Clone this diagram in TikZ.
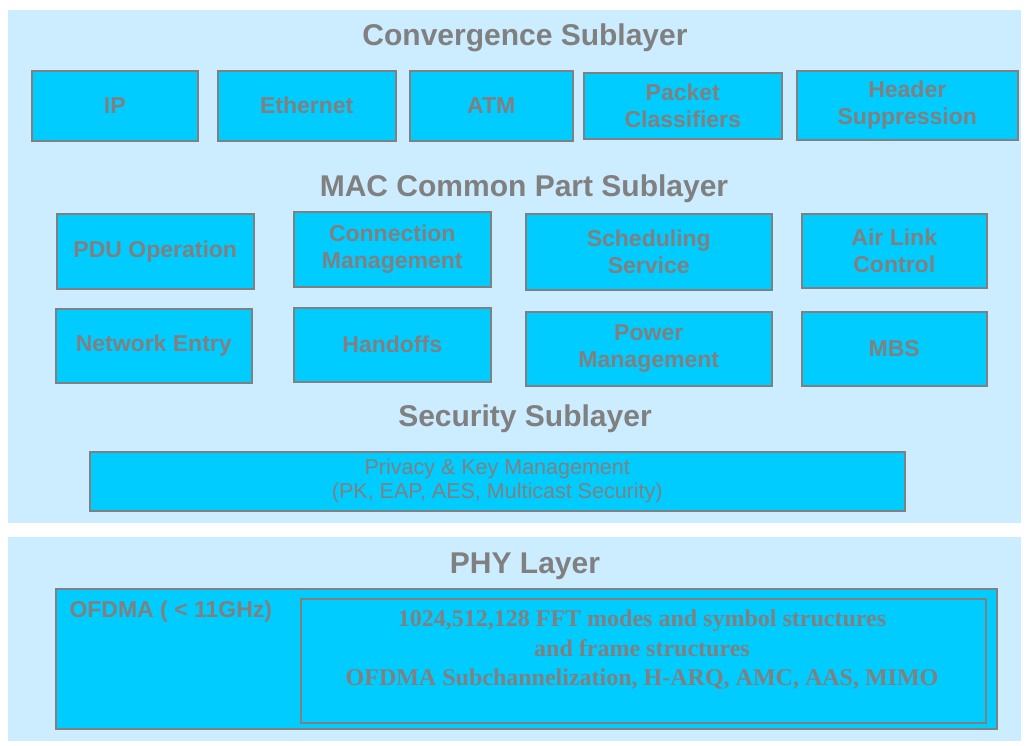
\documentclass[tikz,border=0pt]{standalone}
\usepackage{fontspec}
\setmainfont{Liberation Sans}
\newfontfamily\phyfont{Liberation Serif}
\definecolor{panelblue}{HTML}{CCECFF}
\definecolor{cellblue}{HTML}{00CCFF}
\definecolor{labelgray}{HTML}{808080}
\tikzset{
  panel/.style={fill=panelblue, inner sep=0pt, anchor=north west},
  cell/.style={draw=labelgray, line width=1.5pt, fill=cellblue, inner sep=0pt,
    anchor=north west, text=labelgray, align=center,
    font=\fontsize{23}{27}\selectfont\bfseries},
  layertitle/.style={text=labelgray, font=\fontsize{30}{34}\selectfont\bfseries},
}
\begin{document}
\begin{tikzpicture}[x=1pt,y=-1pt]
  \useasboundingbox[fill=white] (0,0) rectangle (1027,745);
  % layer panels
  \node[panel, minimum width=1013pt, minimum height=513pt] (upper) at (8,10) {};
  \node[panel, minimum width=1013pt, minimum height=204pt] (lower) at (8,537) {};
  % convergence sublayer
  \node[layertitle] (cstitle) at (525,38) {Convergence Sublayer};
  \node[cell, minimum width=166pt, minimum height=70pt] (ip) at (31,70) {IP};
  \node[cell, minimum width=178pt, minimum height=70pt] (eth) at (217,70) {Ethernet};
  \node[cell, minimum width=163pt, minimum height=70pt] (atm) at (409,70) {ATM};
  \node[cell, minimum width=198pt, minimum height=66pt] (pkt) at (583,72) {Packet\\Classifiers};
  \node[cell, minimum width=221pt, minimum height=69pt] (hdr) at (796,70) {Header\\Suppression};
  % mac common part sublayer
  \node[layertitle] (cpstitle) at (524,189) {MAC Common Part Sublayer};
  \node[cell, minimum width=197pt, minimum height=75pt] (pdu) at (56,213) {PDU Operation};
  \node[cell, minimum width=197pt, minimum height=75pt] (conn) at (293,211) {Connection\\Management};
  \node[cell, minimum width=246pt, minimum height=76pt] (sched) at (525,213) {Scheduling\\Service};
  \node[cell, minimum width=185pt, minimum height=74pt] (alc) at (801,213) {Air Link\\Control};
  \node[cell, minimum width=196pt, minimum height=74pt] (entry) at (55,308) {Network Entry};
  \node[cell, minimum width=197pt, minimum height=74pt] (hoff) at (293,307) {Handoffs};
  \node[cell, minimum width=246pt, minimum height=74pt] (power) at (525,311) {Power\\Management};
  \node[cell, minimum width=185pt, minimum height=74pt] (mbs) at (801,311) {MBS};
  % security sublayer
  \node[layertitle] (sectitle) at (525,419) {Security Sublayer};
  \node[cell, minimum width=815pt, minimum height=59pt,
    font=\fontsize{21.5}{24}\selectfont] (privacy) at (89,451)
    {Privacy \& Key Management\\(PK, EAP, AES, Multicast Security)};
  % phy layer
  \node[layertitle] (phytitle) at (525,566) {PHY Layer};
  \node[cell, minimum width=941pt, minimum height=140pt] (ofdma) at (55,588) {};
  \node[cell, minimum width=685pt, minimum height=124pt] (modes) at (300,598) {};
  \node[text=labelgray, anchor=west, font=\fontsize{23}{27}\selectfont\bfseries]
    (ofdmalabel) at (66,612) {OFDMA ( < 11GHz)};
  \node[text=labelgray, align=center, font=\phyfont\fontsize{24}{29.5}\selectfont\bfseries]
    (modestext) at (642,650) {1024,512,128 FFT modes and symbol structures\\
    and frame structures\\OFDMA Subchannelization, H-ARQ, AMC, AAS, MIMO};
\end{tikzpicture}
\end{document}
